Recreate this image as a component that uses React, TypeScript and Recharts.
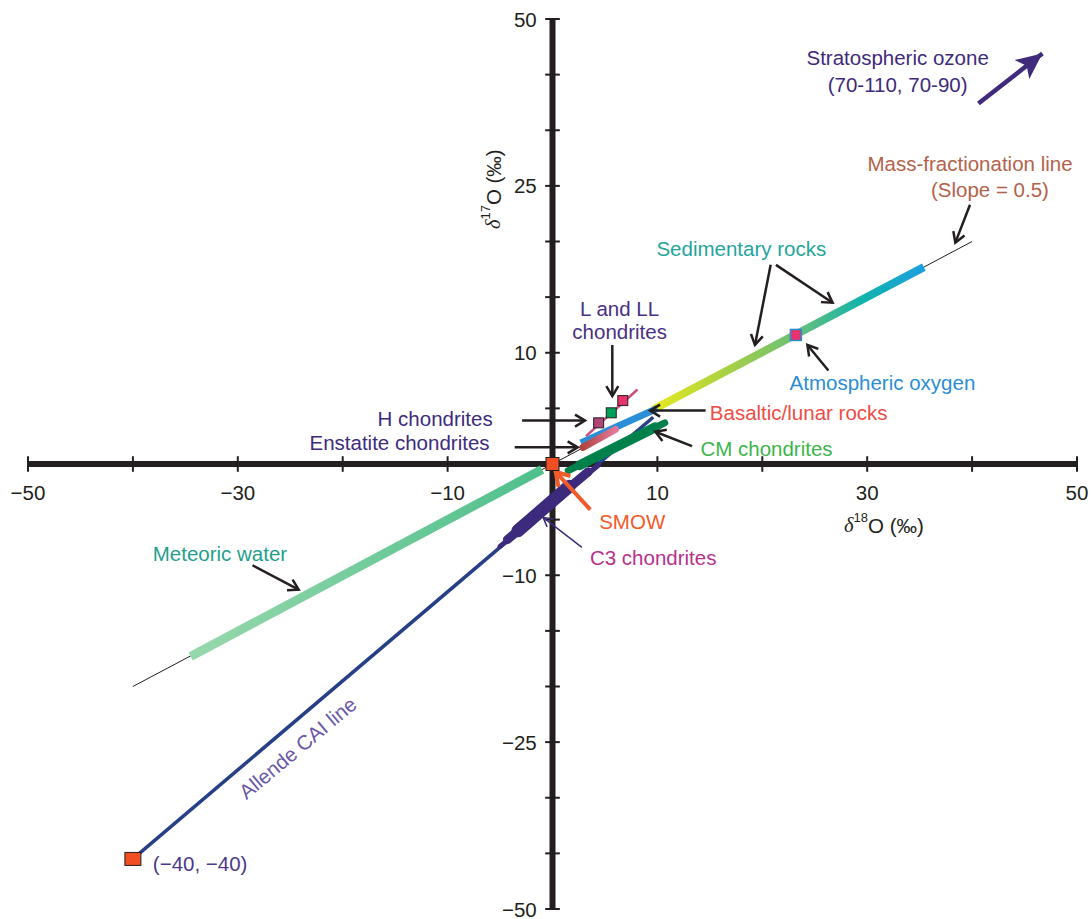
import React from 'react';
import { ComposedChart, XAxis, YAxis, Line, Scatter, ReferenceLine, ReferenceDot } from 'recharts';

const FONT = '"Liberation Sans", Arial, Helvetica, sans-serif';
const INK = '#231f20';
const FS = 20.5;

// axis ticks and labels (the figure labels its outer y ticks 50 / -50)
const xTickValues = [-50, -40, -30, -20, -10, 10, 20, 30, 40, 50];
const xLabelValues = [-50, -30, -10, 10, 30, 50];
const xLabelText = ['\u221250', '\u221230', '\u221210', '10', '30', '50'];
const yTickValues = [-40, -35, -30, -25, -20, -15, -10, -5, 5, 10, 15, 20, 25, 30, 35, 40];
const yLabelValues = [40, 25, 10, -10, -25, -40];
const yLabelText = ['50', '25', '10', '\u221210', '\u221225', '\u221250'];

// series (delta18O = x, delta17O = y)
const massFractionation = [{ x: -40, y: -20 }, { x: 40, y: 20 }];
const meteoricWater = [{ x: -34.5, y: -17.3 }, { x: -1, y: -0.5 }];
const sedimentaryRocks = [{ x: 9.6, y: 4.9 }, { x: 35.4, y: 17.7 }];
const basalticLunar = [{ x: 2.7, y: 1.9 }, { x: 10, y: 5.0 }];
const enstatite = [{ x: 2.9, y: 1.5 }, { x: 6.0, y: 3.1 }];
const ordinaryChondrites = [{ x: 3.2, y: 2.5 }, { x: 8.1, y: 6.7 }];
const allendeCai = [{ x: -40, y: -35.5 }, { x: 9.6, y: 4.2 }];
const c3Outer = [{ x: -5.0, y: -7.4 }, { x: 4.4, y: -0.1 }];
const c3Mid = [{ x: -4.3, y: -6.8 }, { x: 3.4, y: -0.7 }];
const c3Core = [{ x: -3.3, y: -6.0 }, { x: 1.6, y: -2.0 }];
const cmOuter = [{ x: 1.5, y: -0.6 }, { x: 10.7, y: 3.7 }];
const cmCore = [{ x: 2.6, y: -0.1 }, { x: 9.8, y: 3.3 }];

const smow = [{ x: 0, y: 0 }];
const caiEnd = [{ x: -40, y: -35.5 }];
const atmosphericOxygen = [{ x: 23.2, y: 11.6 }];
const hChondrites = [{ x: 4.4, y: 3.7 }];
const lChondrites = [{ x: 5.6, y: 4.6 }];
const llChondrites = [{ x: 6.7, y: 5.7 }];

// annotations, in data units
const labels = [
  { key: 'ozone1', x: 32.9, y: 36.5, text: 'Stratospheric ozone', anchor: 'middle' },
  { key: 'ozone2', x: 32.9, y: 34.1, text: '(70-110, 70-90)', anchor: 'middle' },
  { key: 'mfl1', x: 39.8, y: 27.0, text: 'Mass-fractionation line', anchor: 'middle' },
  { key: 'mfl2', x: 41.7, y: 24.7, text: '(Slope = 0.5)', anchor: 'middle' },
  { key: 'sed', x: 18.0, y: 19.4, text: 'Sedimentary rocks', anchor: 'middle' },
  { key: 'atm', x: 22.6, y: 7.3, text: 'Atmospheric oxygen', anchor: 'start' },
  { key: 'lll1', x: 6.4, y: 14.0, text: 'L and LL', anchor: 'middle' },
  { key: 'lll2', x: 6.4, y: 11.9, text: 'chondrites', anchor: 'middle' },
  { key: 'h', x: -5.7, y: 4.1, text: 'H chondrites', anchor: 'end' },
  { key: 'ens', x: -6.0, y: 1.9, text: 'Enstatite chondrites', anchor: 'end' },
  { key: 'bas', x: 15.0, y: 4.6, text: 'Basaltic/lunar rocks', anchor: 'start' },
  { key: 'cm', x: 14.1, y: 1.4, text: 'CM chondrites', anchor: 'start' },
  { key: 'smow', x: 7.6, y: -5.2, text: 'SMOW', anchor: 'middle' },
  { key: 'c3', x: 9.6, y: -8.4, text: 'C3 chondrites', anchor: 'middle' },
  { key: 'mw', x: -31.7, y: -8.0, text: 'Meteoric water', anchor: 'middle' },
  { key: 'cai', x: -24.3, y: -25.5, text: 'Allende CAI line', anchor: 'middle', angle: -40 },
  { key: 'caiPt', x: -38.1, y: -35.9, text: '(\u221240, \u221240)', anchor: 'start' },
];

const labelColors: Record<string, string> = {
  ozone1: '#3f2a7c', ozone2: '#3f2a7c', mfl1: '#b3624a', mfl2: '#b3624a',
  sed: '#1fa59c', atm: '#2b8ed3', lll1: '#4a2f82', lll2: '#4a2f82',
  h: '#3d2b7e', ens: '#3d2b7e', bas: '#ef4b45', cm: '#3cb54a',
  smow: '#f15a29', c3: '#b8318a', mw: '#1f9f8a', cai: '#6a58a8', caiPt: '#4b3a8a',
};

const arrows = [
  { key: 'ozone', from: [40.6, 32.4], to: [46.7, 36.9], kind: 'ozone' },
  { key: 'mfl', from: [39.8, 23.3], to: [38.4, 19.9], kind: 'black' },
  { key: 'sedA', from: [20.8, 17.9], to: [19.3, 10.7], kind: 'black' },
  { key: 'sedB', from: [21.3, 17.9], to: [26.7, 14.5], kind: 'black' },
  { key: 'atm', from: [26.3, 8.4], to: [24.3, 10.7], kind: 'black' },
  { key: 'lll', from: [5.7, 10.7], to: [5.7, 6.1], kind: 'black' },
  { key: 'h', from: [-2.9, 3.9], to: [3.1, 3.9], kind: 'black' },
  { key: 'ens', from: [-3.6, 1.5], to: [2.4, 1.5], kind: 'black' },
  { key: 'bas', from: [14.6, 4.8], to: [9.3, 4.8], kind: 'black' },
  { key: 'cm', from: [13.3, 1.6], to: [9.8, 2.9], kind: 'black' },
  { key: 'smow', from: [3.6, -4.1], to: [0.3, -0.7], kind: 'smow' },
  { key: 'c3', from: [2.8, -7.5], to: [-0.9, -4.8], kind: 'c3' },
  { key: 'mw', from: [-28.6, -9.1], to: [-24.2, -11.3], kind: 'black' },
];

const arrowStyle: Record<string, { stroke: string; width: number; marker: string }> = {
  black: { stroke: INK, width: 2.5, marker: 'url(#arrowBlack)' },
  ozone: { stroke: '#3f2a7c', width: 4.5, marker: 'url(#arrowOzone)' },
  smow: { stroke: '#f15a29', width: 4, marker: 'url(#arrowSmow)' },
  c3: { stroke: '#3d2b7e', width: 1.5, marker: 'url(#arrowC3)' },
};

const square = (w: number, h: number, fill: string, stroke = INK, sw = 1) => (p: any) => (
  <rect x={p.cx - w / 2} y={p.cy - h / 2} width={w} height={h} fill={fill} stroke={stroke} strokeWidth={sw} />
);

const textShape = (text: string, color: string, anchor: string, angle?: number) => (p: any) => (
  <text
    x={p.cx}
    y={p.cy}
    fill={color}
    fontSize={FS}
    fontFamily={FONT}
    textAnchor={anchor}
    dominantBaseline="central"
    transform={angle ? `rotate(${angle}, ${p.cx}, ${p.cy})` : undefined}
  >
    {text}
  </text>
);

const axisTitle = (sup: string, rotate: boolean) => (p: any) => (
  <text
    x={p.cx}
    y={p.cy}
    fill={INK}
    fontSize={FS}
    fontFamily={FONT}
    textAnchor="middle"
    dominantBaseline="central"
    transform={rotate ? `rotate(-90, ${p.cx}, ${p.cy})` : undefined}
  >
    <tspan fontStyle="italic" fontFamily='"Liberation Serif", serif'>δ</tspan>
    <tspan fontSize={13} dy={-8}>{sup}</tspan>
    <tspan dy={8}>O (‰)</tspan>
  </text>
);

const arrowLine = (marker: string) => (p: any) => (
  <line x1={p.x1} y1={p.y1} x2={p.x2} y2={p.y2} stroke={p.stroke} strokeWidth={p.strokeWidth} markerEnd={marker} />
);

export default function App() {
  return (
    <div style={{ position: 'absolute', left: 0, top: 0, background: '#fff' }}>
      <svg width={0} height={0} style={{ position: 'absolute' }}>
        <defs>
          <linearGradient id="gradMeteoric" x1="0" y1="0" x2="1" y2="0">
            <stop offset="0%" stopColor="#97d8ac" />
            <stop offset="100%" stopColor="#4fbf8c" />
          </linearGradient>
          <linearGradient id="gradSed" x1="0" y1="0" x2="1" y2="0">
            <stop offset="0%" stopColor="#e6e91f" />
            <stop offset="30%" stopColor="#a2ce48" />
            <stop offset="52%" stopColor="#6cc077" />
            <stop offset="78%" stopColor="#0fb3ad" />
            <stop offset="100%" stopColor="#1d9fe0" />
          </linearGradient>
          <linearGradient id="gradEns" x1="0" y1="0" x2="1" y2="0">
            <stop offset="0%" stopColor="#b2443f" />
            <stop offset="100%" stopColor="#e4789a" />
          </linearGradient>
          <marker id="arrowBlack" markerWidth={16} markerHeight={16} refX={13} refY={8} orient="auto" markerUnits="userSpaceOnUse">
            <path d="M3,2 L13,8 L3,14" fill="none" stroke={INK} strokeWidth={2.5} />
          </marker>
          <marker id="arrowOzone" markerWidth={28} markerHeight={26} refX={26} refY={13} orient="auto" markerUnits="userSpaceOnUse">
            <path d="M0,1 L26,13 L0,25 L6,13 Z" fill="#3f2a7c" />
          </marker>
          <marker id="arrowSmow" markerWidth={20} markerHeight={20} refX={16} refY={10} orient="auto" markerUnits="userSpaceOnUse">
            <path d="M3,2 L16,10 L3,18" fill="none" stroke="#f15a29" strokeWidth={4} />
          </marker>
          <marker id="arrowC3" markerWidth={14} markerHeight={14} refX={11} refY={7} orient="auto" markerUnits="userSpaceOnUse">
            <path d="M2,2 L11,7 L2,12" fill="none" stroke="#3d2b7e" strokeWidth={1.5} />
          </marker>
        </defs>
      </svg>
      <ComposedChart width={1091} height={919} margin={{ top: 19, right: 14, bottom: 10, left: 28 }}>
        <XAxis type="number" dataKey="x" domain={[-50, 50]} hide allowDataOverflow />
        <YAxis type="number" dataKey="y" domain={[-40, 40]} hide allowDataOverflow />

        <ReferenceLine y={0} stroke={INK} strokeWidth={6} />
        <ReferenceLine x={0} stroke={INK} strokeWidth={6} />
        {xTickValues.map((v) => (
          <ReferenceLine key={`xt${v}`} segment={[{ x: v, y: -0.7 }, { x: v, y: 0.7 }]} stroke={INK} strokeWidth={2} />
        ))}
        {yTickValues.map((v) => (
          <ReferenceLine key={`yt${v}`} segment={[{ x: -0.7, y: v }, { x: 0.7, y: v }]} stroke={INK} strokeWidth={2} />
        ))}

        <Line data={massFractionation} dataKey="y" stroke={INK} strokeWidth={1} dot={false} isAnimationActive={false} />
        <Line data={meteoricWater} dataKey="y" stroke="url(#gradMeteoric)" strokeWidth={9} dot={false} isAnimationActive={false} />
        <Line data={sedimentaryRocks} dataKey="y" stroke="url(#gradSed)" strokeWidth={8} dot={false} isAnimationActive={false} />
        <Line data={allendeCai} dataKey="y" stroke="#263f86" strokeWidth={3.5} dot={false} isAnimationActive={false} />
        <Line data={c3Outer} dataKey="y" stroke="#3c2a7c" strokeWidth={5} strokeLinecap="round" dot={false} isAnimationActive={false} />
        <Line data={c3Mid} dataKey="y" stroke="#3c2a7c" strokeWidth={9} strokeLinecap="round" dot={false} isAnimationActive={false} />
        <Line data={c3Core} dataKey="y" stroke="#3c2a7c" strokeWidth={13} strokeLinecap="round" dot={false} isAnimationActive={false} />
        <Line data={cmOuter} dataKey="y" stroke="#00804a" strokeWidth={7} strokeLinecap="round" dot={false} isAnimationActive={false} />
        <Line data={cmCore} dataKey="y" stroke="#00804a" strokeWidth={10} strokeLinecap="round" dot={false} isAnimationActive={false} />
        <Line data={basalticLunar} dataKey="y" stroke="#2a8fd8" strokeWidth={7} dot={false} isAnimationActive={false} />
        <Line data={enstatite} dataKey="y" stroke="url(#gradEns)" strokeWidth={7} strokeLinecap="round" dot={false} isAnimationActive={false} />
        <Line data={ordinaryChondrites} dataKey="y" stroke="#c55080" strokeWidth={2.5} dot={false} isAnimationActive={false} />

        <Scatter data={smow} shape={square(13, 13, '#f04e23')} isAnimationActive={false} />
        <Scatter data={caiEnd} shape={square(16, 13, '#f04e23')} isAnimationActive={false} />
        <Scatter data={atmosphericOxygen} shape={square(11, 11, '#e8336e', '#2b8ed3', 1.5)} isAnimationActive={false} />
        <Scatter data={hChondrites} shape={square(10, 10, '#b0457a')} isAnimationActive={false} />
        <Scatter data={lChondrites} shape={square(10, 10, '#00a05a')} isAnimationActive={false} />
        <Scatter data={llChondrites} shape={square(10, 10, '#e6336a')} isAnimationActive={false} />

        {arrows.map((a) => {
          const s = arrowStyle[a.kind];
          return (
            <ReferenceLine
              key={`ar${a.key}`}
              segment={[{ x: a.from[0], y: a.from[1] }, { x: a.to[0], y: a.to[1] }]}
              stroke={s.stroke}
              strokeWidth={s.width}
              shape={arrowLine(s.marker)}
            />
          );
        })}

        {xLabelValues.map((v, i) => (
          <ReferenceDot key={`xl${v}`} x={v} y={-2.6} r={0} shape={textShape(xLabelText[i], INK, 'middle')} />
        ))}
        {yLabelValues.map((v, i) => (
          <ReferenceDot key={`yl${v}`} x={-1.5} y={v} r={0} shape={textShape(yLabelText[i], INK, 'end')} />
        ))}
        <ReferenceDot x={31.6} y={-5.5} r={0} shape={axisTitle('18', false)} />
        <ReferenceDot x={-5.7} y={24.7} r={0} shape={axisTitle('17', true)} />

        {labels.map((l) => (
          <ReferenceDot key={l.key} x={l.x} y={l.y} r={0} shape={textShape(l.text, labelColors[l.key], l.anchor, l.angle)} />
        ))}
      </ComposedChart>
    </div>
  );
}
